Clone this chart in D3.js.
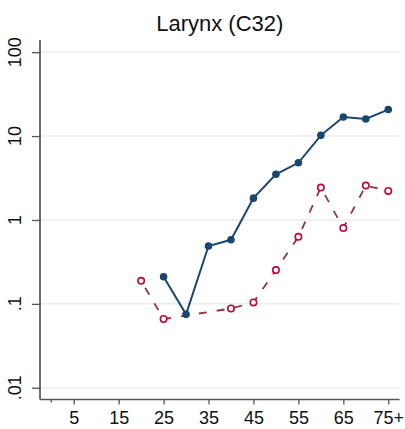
<!DOCTYPE html>
<html>
<head>
	<meta charset="utf-8">
	<title>Larynx (C32)</title>
	<style>
		body { margin: 0; background: #fff; }
		svg { display: block; font-family: "Liberation Sans", Arial, sans-serif; }
	</style>
</head>
<body>
	<div id="vis"></div>
	<script src="https://d3js.org/d3.v7.min.js"></script>
	<script>
		// chart values
		var xTicks = [5, 15, 25, 35, 45, 55, 65, 75];
		var xTickLabels = ["5", "15", "25", "35", "45", "55", "65", "75+"];
		var yTicks = [0.01, 0.1, 1, 10, 100];
		var yTickLabels = [".01", ".1", "1", "10", "100"];

		var blueAge = [25, 30, 35, 40, 45, 50, 55, 60, 65, 70, 75];
		var blueRate = [0.21, 0.075, 0.49, 0.58, 1.82, 3.5, 4.8, 10.2, 16.9, 16.0, 20.7];

		var redAge = [20, 25, 40, 45, 50, 55, 60, 65, 70, 75];
		var redRate = [0.188, 0.066, 0.088, 0.104, 0.253, 0.63, 2.43, 0.80, 2.57, 2.22];

		var W = 405, H = 429;
		var plot = {left: 40, right: 399.5, top: 40, bottom: 399.5};

		var svg = d3.select("#vis").append("svg")
			.attr("width", W)
			.attr("height", H);

		var x = d3.scaleLinear()
			.domain([-2.5, 77.5])
			.range([plot.left, plot.right]);

		var y = d3.scaleLog()
			.domain([Math.pow(10, -2.14), Math.pow(10, 2.145)])
			.range([plot.bottom, plot.top]);

		// title
		svg.append("text")
			.attr("x", (plot.left + plot.right) / 2)
			.attr("y", 30.5)
			.attr("text-anchor", "middle")
			.style("font-size", "22px")
			.style("fill", "#111")
			.text("Larynx (C32)");

		// grid lines
		svg.append("g").selectAll("line")
			.data(yTicks)
			.enter().append("line")
			.attr("x1", plot.left)
			.attr("x2", plot.right)
			.attr("y1", function(d) { return y(d); })
			.attr("y2", function(d) { return y(d); })
			.style("stroke", "#ececec")
			.style("stroke-width", 1.5);

		// y axis
		var yAxis = svg.append("g")
			.attr("transform", "translate(" + plot.left + ",0)")
			.call(d3.axisLeft(y).tickValues(yTicks).tickSize(8).tickFormat(""));
		yAxis.select(".domain").attr("d", "M0," + plot.top + "V" + plot.bottom)
			.style("stroke", "#222").style("stroke-width", 1.3);
		yAxis.selectAll(".tick line").style("stroke", "#555").style("stroke-width", 1.3);

		svg.append("g").selectAll("text")
			.data(yTicks)
			.enter().append("text")
			.attr("transform", function(d) {
				return "translate(20.5," + y(d) + ") rotate(-90)";
			})
			.attr("text-anchor", "middle")
			.style("font-size", "18px")
			.style("fill", "#111")
			.text(function(d, i) { return yTickLabels[i]; });

		// x axis
		var xAxis = svg.append("g")
			.attr("transform", "translate(0," + plot.bottom + ")")
			.call(d3.axisBottom(x).tickValues(xTicks).tickSize(5)
				.tickFormat(function(d, i) { return xTickLabels[i]; }));
		xAxis.select(".domain").attr("d", "M" + plot.left + ",0H" + plot.right)
			.style("stroke", "#555").style("stroke-width", 1.3);
		xAxis.selectAll(".tick line").style("stroke", "#555").style("stroke-width", 1.3);
		xAxis.selectAll(".tick text")
			.attr("y", 24.5)
			.attr("dy", null)
			.style("font-size", "18px")
			.style("font-family", "'Liberation Sans', Arial, sans-serif")
			.style("fill", "#111");
		// small tick at 0
		xAxis.append("line")
			.attr("x1", x(0)).attr("x2", x(0))
			.attr("y1", 0).attr("y2", 3)
			.style("stroke", "#555").style("stroke-width", 1.3);

		// red series, dashed with hollow markers
		var red = redAge.map(function(a, i) { return {age: a, v: redRate[i]}; });
		var blue = blueAge.map(function(a, i) { return {age: a, v: blueRate[i]}; });

		var line = d3.line()
			.x(function(d) { return x(d.age); })
			.y(function(d) { return y(d.v); });

		svg.append("path")
			.datum(red)
			.attr("d", line)
			.style("fill", "none")
			.style("stroke", "#90353b")
			.style("stroke-width", 1.8)
			.style("stroke-dasharray", "8,10")
			.style("stroke-dashoffset", 10);

		svg.append("g").selectAll("circle")
			.data(red)
			.enter().append("circle")
			.attr("cx", function(d) { return x(d.age); })
			.attr("cy", function(d) { return y(d.v); })
			.attr("r", 3.2)
			.style("fill", "#fff")
			.style("stroke", "#c10534")
			.style("stroke-width", 1.6);

		// blue series, solid with filled markers
		svg.append("path")
			.datum(blue)
			.attr("d", line)
			.style("fill", "none")
			.style("stroke", "#1a476f")
			.style("stroke-width", 2);

		svg.append("g").selectAll("circle")
			.data(blue)
			.enter().append("circle")
			.attr("cx", function(d) { return x(d.age); })
			.attr("cy", function(d) { return y(d.v); })
			.attr("r", 3.8)
			.style("fill", "#1a476f");
	</script>
</body>
</html>
